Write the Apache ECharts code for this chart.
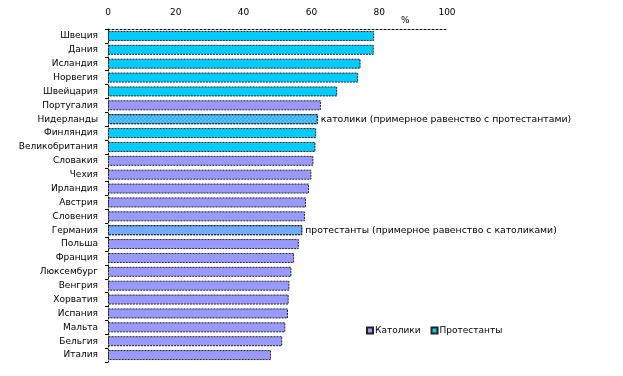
<!DOCTYPE html>
<html><head><meta charset="utf-8">
<script src="https://cdn.jsdelivr.net/npm/echarts@6/dist/echarts.min.js"></script>
<style>html,body{margin:0;padding:0;background:#fff}#c{width:623px;height:376px}</style>
</head><body><div id="c"></div>
<script>
const categories = ['Швеция','Дания','Исландия','Норвегия','Швейцария','Португалия','Нидерланды','Финляндия','Великобритания','Словакия','Чехия','Ирландия','Австрия','Словения','Германия','Польша','Франция','Люксембург','Венгрия','Хорватия','Испания','Мальта','Бельгия','Италия'];
const values = [78.5,78.4,74.5,73.8,67.6,62.8,61.9,61.4,61.2,60.6,60.0,59.3,58.4,58.1,57.3,56.3,54.9,54.1,53.5,53.3,53.1,52.3,51.4,48.1];
const religion = ['P','P','P','P','P','C','C','P','P','C','C','C','C','C','P','C','C','C','C','C','C','C','C','C'];
const mixed = {'Нидерланды':'католики (примерное равенство с протестантами)','Германия':'протестанты (примерное равенство с католиками)'};
const xTicks = [0,20,40,60,80,100];

const CATH = '#9999FF', PROT = '#00CCFF';
const font = 'DejaVu Sans';

function build(kind, color, other, blend){
  return categories.map((c,i)=>{
    if (religion[i] !== kind) return null;
    const item = {value: values[i]};
    if (mixed[c]) {
      item.itemStyle = {color: blend, decal: {symbol:'rect', symbolSize:1, color: other, dashArrayX:[[2,2],[0,2,2,0]], dashArrayY:[2,0], rotation:0}};
      item.label = {show:true, position:'right', distance:3, formatter: mixed[c], color:'#000', fontFamily:font, fontSize:9.3};
    }
    return item;
  });
}

const chart = echarts.init(document.getElementById('c'), null, {renderer:'canvas'});
chart.setOption({
  animation:false,
  backgroundColor:'#fff',
  grid:{left:108, right:176, top:29, bottom:14},
  xAxis:{type:'value', position:'top', min:0, max:100, interval:20,
    axisLine:{show:true, lineStyle:{color:'#000', type:[2,2], width:1}},
    axisTick:{show:false}, splitLine:{show:false},
    axisLabel:{color:'#000', fontFamily:font, fontSize:9, margin:12,
      formatter:v=> xTicks.includes(v) ? String(v) : ''}},
  yAxis:{type:'category', data:categories, inverse:true,
    axisLine:{show:true, lineStyle:{color:'#000', type:[2,2], width:1}},
    axisTick:{show:true, length:3, lineStyle:{color:'#000'}},
    axisLabel:{color:'#000', fontFamily:font, fontSize:9, margin:10}},
  legend:{left:361, top:321, itemWidth:6, itemHeight:6, itemGap:10, icon:'rect',
    textStyle:{fontFamily:font, fontSize:9, color:'#000', padding:[0,0,0,-3]},
    data:['Католики','Протестанты']},
  graphic:[{type:'text', left:401, top:16, style:{text:'%', font:'9px "DejaVu Sans"', fill:'#000'}}],
  series:[
    {name:'Католики', type:'bar', stack:'s', barWidth:10, data:build('C',CATH,PROT,'#8FA6FF'),
     itemStyle:{color:CATH, borderColor:'#222', borderWidth:1, borderType:[2,1]}},
    {name:'Протестанты', type:'bar', stack:'s', barWidth:10, data:build('P',PROT,CATH,'#4FBFFF'),
     itemStyle:{color:PROT, borderColor:'#222', borderWidth:1, borderType:[2,1]}}
  ]
});
</script></body></html>
